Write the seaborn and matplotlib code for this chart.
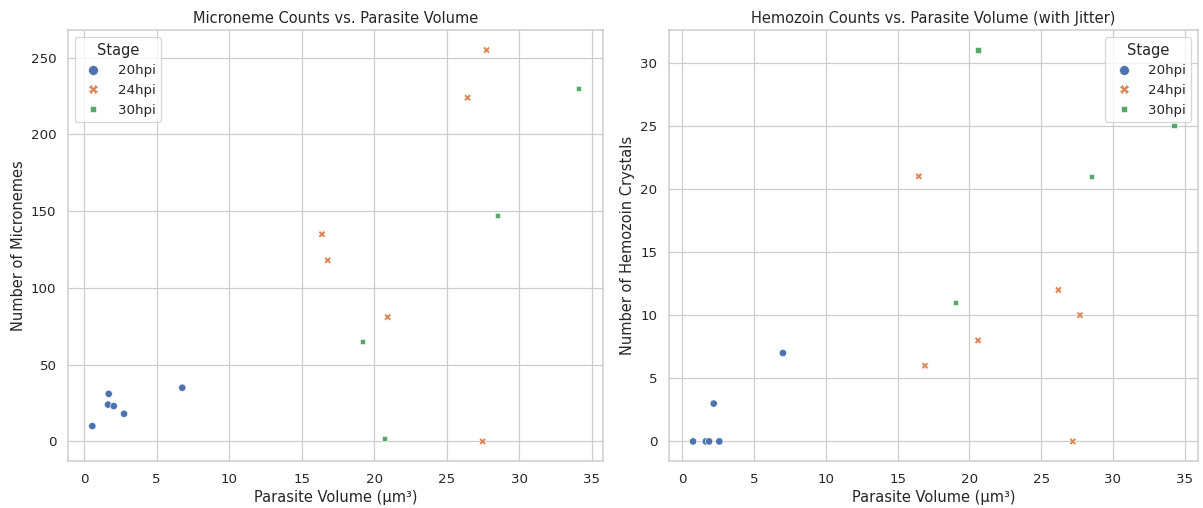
import matplotlib
matplotlib.use("Agg")
import matplotlib.pyplot as plt
import seaborn as sns
import pandas as pd

stages = ["20hpi"] * 6 + ["24hpi"] * 6 + ["30hpi"] * 4

# Left panel: micronemes
mic_volume = [0.57, 1.70, 1.65, 2.05, 2.76, 6.77,
              27.75, 26.44, 16.4, 16.8, 20.93, 27.48,
              34.1, 28.5, 19.2, 20.7]
mic_counts = [10, 31, 24, 23, 18, 35,
              255, 224, 135, 118, 81, 0,
              230, 147, 65, 2]

# Right panel: hemozoin (with jitter)
hz_volume = [0.74, 1.63, 1.86, 2.57, 2.18, 7.0,
             16.47, 16.9, 20.6, 26.2, 27.7, 27.2,
             20.6, 34.25, 28.5, 19.0]
hz_counts = [0, 0, 0, 0, 3, 7,
             21, 6, 8, 12, 10, 0,
             31, 25, 21, 11]

df_mic = pd.DataFrame({"Parasite Volume": mic_volume, "Micronemes": mic_counts, "Stage": stages})
df_hz = pd.DataFrame({"Parasite Volume": hz_volume, "Hemozoin": hz_counts, "Stage": stages})

sns.set_theme(style="whitegrid")

DPI = 87.6
fig, axes = plt.subplots(1, 2, figsize=(1203 / DPI, 508 / DPI), dpi=DPI)

sns.scatterplot(data=df_mic, x="Parasite Volume", y="Micronemes", hue="Stage", style="Stage", ax=axes[0])
axes[0].set_title("Microneme Counts vs. Parasite Volume")
axes[0].set_xlabel("Parasite Volume (µm³)")
axes[0].set_ylabel("Number of Micronemes")
sns.move_legend(axes[0], "upper left", title="Stage", markerscale=1.35)

sns.scatterplot(data=df_hz, x="Parasite Volume", y="Hemozoin", hue="Stage", style="Stage", ax=axes[1])
axes[1].set_title("Hemozoin Counts vs. Parasite Volume (with Jitter)")
axes[1].set_xlabel("Parasite Volume (µm³)")
axes[1].set_ylabel("Number of Hemozoin Crystals")
sns.move_legend(axes[1], "upper right", title="Stage", markerscale=1.35)

W, H = 1203, 508
axes[0].set_position([68 / W, (H - 461) / H, 535 / W, 430.5 / H])
axes[1].set_position([669 / W, (H - 461) / H, 529 / W, 430.5 / H])

fig.savefig("out.png", dpi=DPI)
